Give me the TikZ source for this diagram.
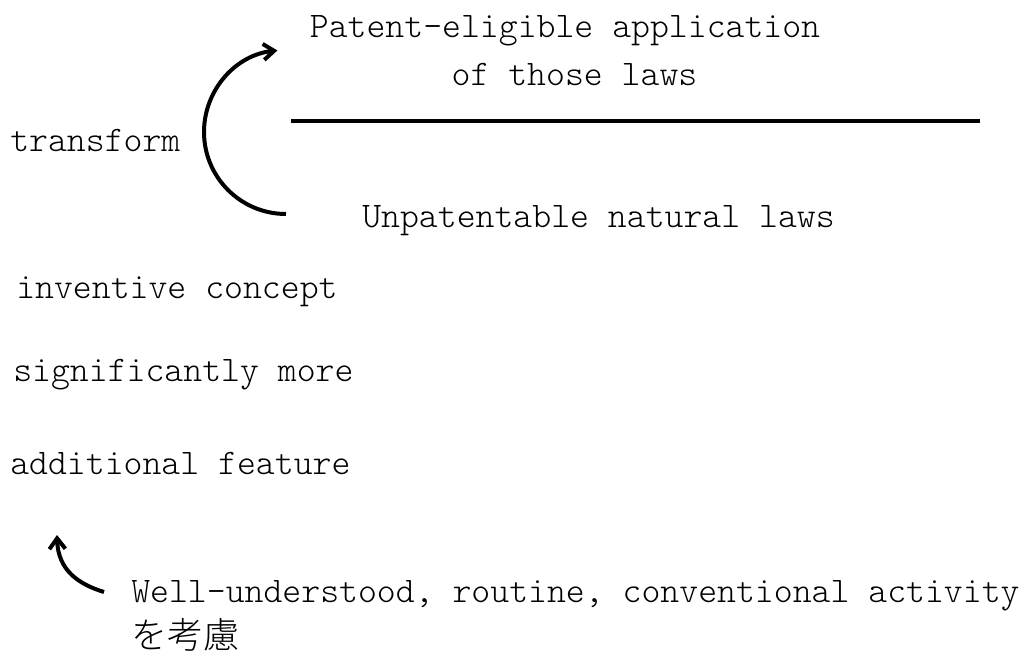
\documentclass[tikz,border=0pt]{standalone}
\usepackage{fontspec}
\setmonofont{Latin Modern Mono Light}
\newfontfamily\jpfont{Noto Sans CJK JP Light}
\usetikzlibrary{arrows.meta}
\begin{document}
\begin{tikzpicture}[x=0.75pt,y=-0.75pt,
  lbl/.style={inner sep=0pt, font=\ttfamily\fontsize{27pt}{36pt}\selectfont},
  conn/.style={line width=3pt, -{Straight Barb[length=8pt,width=12pt]}}]
\useasboundingbox[fill=white] (0,0) rectangle (1029,657);
% top and bottom texts with dividing line
\node[lbl, anchor=north, align=center] (top) at (565,15) {Patent-eligible application\\\ of those laws};
\coordinate (l1) at (291,121);
\coordinate (l2) at (980,121);
\draw[line width=3.2pt] (l1) -- (l2);
\node[lbl, anchor=base west] (bottom) at (362,227) {Unpatentable natural laws};
% transform arc
\node[lbl, anchor=base west] (transform) at (10,151) {transform};
\coordinate (arcS) at (286,214);
\draw[conn] (arcS) arc[start angle=90, end angle=264, radius=82];
% left column
\node[lbl, anchor=base west] (inventive) at (16,298) {inventive concept};
\node[lbl, anchor=base west] (signif) at (13,381) {significantly more};
\node[lbl, anchor=base west] (additional) at (10,474) {additional feature};
% bottom note
\node[lbl, anchor=base west, align=left] (well) at (131,648) {Well-understood, routine, conventional activity\\[-2pt]{\jpfont を考慮}};
\coordinate (wt) at (104,592);
\coordinate (wh) at (57,535);
\draw[conn] (wt) .. controls (78,584) and (58,570) .. (wh);
\end{tikzpicture}
\end{document}
